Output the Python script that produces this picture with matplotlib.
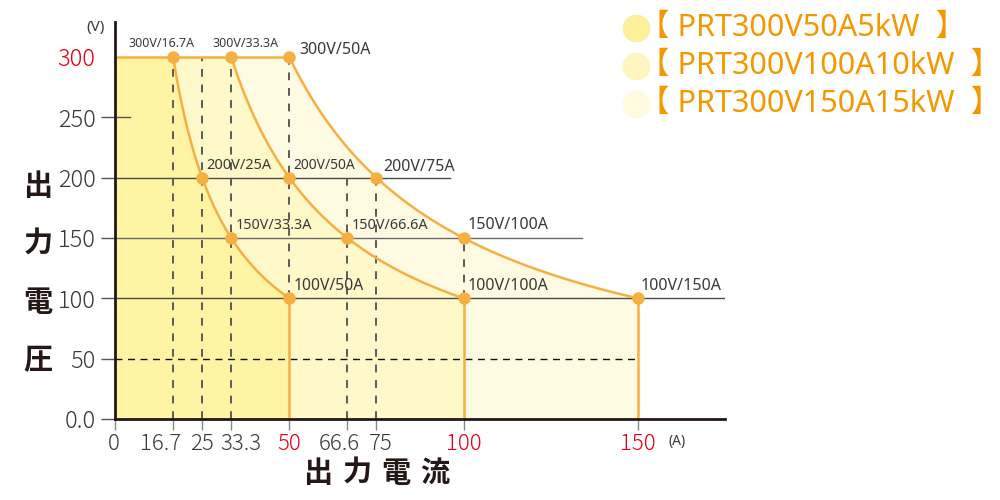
import numpy as np
import matplotlib
matplotlib.use("Agg")
import matplotlib.pyplot as plt
from matplotlib.lines import Line2D
from matplotlib.transforms import offset_copy, blended_transform_factory

plt.rcParams['font.family'] = ['Noto Sans CJK JP', 'DejaVu Sans']
LAT = ['Noto Sans', 'Noto Sans CJK JP']

# ---- data ----
models = ['PRT300V50A5kW', 'PRT300V100A10kW', 'PRT300V150A15kW']
power_w = [5000, 10000, 15000]
max_current = [50, 100, 150]
fill_colors = ['#fff4a3', '#fff8c9', '#fffbe2']
legend_colors = ['#fdf09a', '#fef5c0', '#fffae0']

# operating points (V, A)
pt_volts = [300, 300, 300, 200, 200, 200, 150, 150, 150, 100, 100, 100]
pt_amps = [16.7, 33.3, 50, 25, 50, 75, 33.3, 66.6, 100, 50, 100, 150]

x_ticks = [0, 16.7, 25, 33.3, 50, 66.6, 75, 100, 150]
x_tick_labels = ['0', '16.7', '25', '33.3', '50', '66.6', '75', '100', '150']
x_red = ['50', '100', '150']
y_ticks = [0, 50, 100, 150, 200, 250, 300]
y_tick_labels = ['0.0', '50', '100', '150', '200', '250', '300']

# label styling (size, dx pt, dy pt, ha)
lab_style = [(9, -8.5, 10, 'center'), (9, 10.5, 10, 'center'), (11.5, 7, 5, 'left'),
             (10.5, 3, 9, 'left'), (10, 3, 9, 'left'), (11.5, 5, 8, 'left'),
             (10.3, 3, 9, 'left'), (10.4, 3, 9, 'left'), (11.5, 3, 9, 'left'),
             (11.3, 3, 9, 'left'), (11.5, 3, 9, 'left'), (11.5, 2, 9, 'left')]
# horizontal nudges (points) of a few crowded x tick labels
x_label_dx = [-1, -9, 0, 7, 0, -6, 3, 0, 0]

ORANGE = '#f5b041'
DARK = '#231815'
TXT = '#3a3a3a'
RED = '#e60012'

fig = plt.figure(figsize=(10, 5), dpi=100)
ax = fig.add_axes([0.115, 0.162, 0.61, 0.794])
ax.set_xlim(0, 175)
ax.set_ylim(0, 329)

# ---- fills (largest first) ----
for P, imax, col in sorted(zip(power_w, max_current, fill_colors), key=lambda t: -t[0]):
    i0 = P / 300.0
    xs = np.linspace(i0, imax, 200)
    ys = P / xs
    px = np.concatenate([[0, 0], xs, [imax]])
    py = np.concatenate([[0, 300], ys, [0]])
    ax.fill(px, py, color=col, lw=0, zorder=1)

# ---- grid / helper lines ----
ax.plot([0, 96], [200, 200], color='#4a4a4a', lw=1, zorder=2)
ax.plot([0, 134], [150, 150], color='#6a6a6a', lw=1, zorder=2)
ax.plot([0, 175], [100, 100], color='#4a4a4a', lw=1, zorder=2)
ax.plot([0, 4.3], [250, 250], color='#555555', lw=1, zorder=2)
ax.plot([0, 150], [50, 50], color='#111111', lw=1, ls=(0, (5, 4)), zorder=2)

dash_kw = dict(color='#5a5a5a', lw=1.4, ls=(0, (4, 4)), zorder=2)
for x, y0, y1 in [(16.7, 0, 300), (25, 0, 300), (33.3, 0, 300), (50, 100, 300),
                  (66.6, 0, 200), (75, 0, 200), (100, 100, 150)]:
    ax.plot([x, x], [y0, y1], **dash_kw)

# ---- power curves ----
ax.plot([0, 50], [300, 300], color=ORANGE, lw=1.8, zorder=3)
for P, imax in zip(power_w, max_current):
    i0 = P / 300.0
    xs = np.linspace(i0, imax, 200)
    ax.plot(xs, P / xs, color=ORANGE, lw=1.8, zorder=3)
    ax.plot([imax, imax], [0, P / imax], color=ORANGE, lw=1.8, zorder=3)

ax.plot(pt_amps, pt_volts, 'o', color=ORANGE, ms=9, mec='none', zorder=4)

# ---- point labels ----
for v, a, (fs, dx, dy, ha) in zip(pt_volts, pt_amps, lab_style):
    lab = f"{v:g}V/{a:g}A"
    tr = offset_copy(ax.transData, fig=fig, x=dx, y=dy, units='points')
    ax.text(a, v, lab, transform=tr, ha=ha, va='center', fontsize=fs,
            color=TXT, family=LAT, fontweight='light')

# ---- axes styling ----
for s in ['top', 'right']:
    ax.spines[s].set_visible(False)
for s in ['left', 'bottom']:
    ax.spines[s].set_color(DARK)
    ax.spines[s].set_linewidth(2)
    ax.spines[s].set_zorder(5)

ax.set_xticks(x_ticks)
ax.set_xticklabels([])
ax.set_yticks(y_ticks)
ax.set_yticklabels(y_tick_labels, fontsize=17, color=TXT, fontweight='light')
ax.tick_params(axis='x', length=8, width=1, color='#888888')
ax.tick_params(axis='y', length=10, width=1, color='#555555', pad=4)
ax.yaxis.get_major_ticks()[-1].tick1line.set_visible(False)
for lbl in ax.get_yticklabels():
    if lbl.get_text() == '300':
        lbl.set_color(RED)

# x tick labels drawn as text so crowded ones can be nudged
bt = blended_transform_factory(ax.transData, ax.transAxes)
for x, t, dx in zip(x_ticks, x_tick_labels, x_label_dx):
    tr = offset_copy(bt, fig=fig, x=dx, y=-10, units='points')
    ax.text(x, 0, t, transform=tr, ha='center', va='top', fontsize=16,
            color=RED if t in x_red else TXT, fontweight='light', clip_on=False)

# units
fig.text(0.096, 0.946, '(V)', fontsize=11, color=TXT, ha='center', va='center',
         family=LAT, fontweight='light')
fig.text(0.677, 0.116, '(A)', fontsize=10, color=TXT, ha='center', va='center',
         family=LAT, fontweight='light')

# axis titles
for k, ch in enumerate('出力電圧'):
    fig.text(0.038, 1 - (186 + 58 * k) / 500, ch, fontsize=21, fontweight='bold',
             color=DARK, ha='center', va='center')
for k, ch in enumerate('出力電流'):
    fig.text((318 + 39 * k) / 1000, 1 - 473 / 500, ch, fontsize=21, fontweight='bold',
             color=DARK, ha='center', va='center')

# legend
for k, (m, c) in enumerate(zip(models, legend_colors)):
    yc = 1 - (28 + 38 * k) / 500
    fig.add_artist(Line2D([0.636], [yc], marker='o', ms=20, color=c, mec='none',
                          transform=fig.transFigure))
    fig.text(0.639, yc, f"【 {m}  】", fontsize=22, color='#f39800', ha='left', va='center',
             family=LAT, fontweight='light')

fig.savefig('out.png', dpi=100)
